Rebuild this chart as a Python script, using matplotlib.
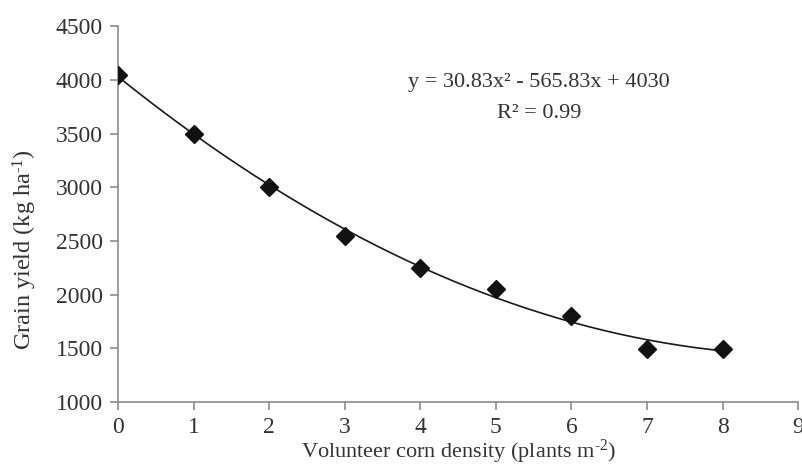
import numpy as np
import matplotlib
matplotlib.use("Agg")
import matplotlib.pyplot as plt

# --- データ ---
density = [0, 1, 2, 3, 4, 5, 6, 7, 8]
grain_yield = [4050, 3500, 3000, 2550, 2250, 2050, 1800, 1490, 1490]
# トレンドライン係数 (図中の式)
fit_coef = [30.83, -565.83, 4030]
x_ticks = [0, 1, 2, 3, 4, 5, 6, 7, 8, 9]
y_ticks = [1000, 1500, 2000, 2500, 3000, 3500, 4000, 4500]

plt.rcParams['font.family'] = ['Liberation Serif', 'DejaVu Serif']
plt.rcParams['mathtext.fontset'] = 'custom'
plt.rcParams['mathtext.rm'] = 'Liberation Serif'
plt.rcParams['mathtext.it'] = 'Liberation Serif:italic'

axis_color = '#8c8c8c'
text_color = '#333333'

fig = plt.figure(figsize=(8.03, 4.68), dpi=100)
ax = fig.add_axes([0.147, 0.141, 0.847, 0.803])

xs = np.linspace(density[0], density[-1], 200)
ax.plot(xs, np.polyval(fit_coef, xs), color='#1a1a1a', lw=1.2, zorder=2)
ax.plot(density, grain_yield, 'D', color='#111111', markersize=9, zorder=3)

ax.text(5.57, 3977, "y = 30.83x² - 565.83x + 4030", ha='center', va='center',
        fontsize=16, color=text_color)
ax.text(5.57, 3690, "R² = 0.99", ha='center', va='center',
        fontsize=16, color=text_color)

ax.set_xlim(0, 9)
ax.set_ylim(1000, 4500)
ax.set_xticks(x_ticks)
ax.set_yticks(y_ticks)

for side in ('top', 'right'):
    ax.spines[side].set_visible(False)
for side in ('left', 'bottom'):
    ax.spines[side].set_color(axis_color)
    ax.spines[side].set_linewidth(1.2)
ax.tick_params(direction='out', length=6, width=1.2, color=axis_color,
               labelsize=17, labelcolor=text_color, pad=5)

ax.set_xlabel(r"Volunteer corn density (plants m$^{\text{-2}}$)", fontsize=16,
              color=text_color)
ax.set_ylabel(r"Grain yield (kg ha$^{\text{-1}}$)", fontsize=17.5, color=text_color)
# 軸ラベルの位置を参照図に合わせる
ax.xaxis.set_label_coords(0.5, -0.095)
ax.yaxis.set_label_coords(-0.116, 0.407)

fig.savefig("out.png", dpi=100)
